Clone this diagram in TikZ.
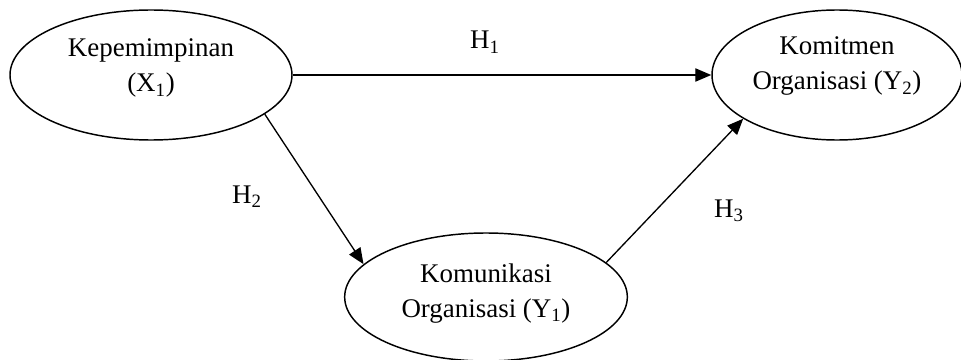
\documentclass[tikz,border=0pt]{standalone}
\usepackage{fontspec}
\setmainfont{Liberation Serif}
\usetikzlibrary{shapes.geometric,arrows.meta}

\begin{document}
\begin{tikzpicture}[x=0.75pt,y=-0.75pt,
	latent/.style={ellipse, draw, line width=1.1pt, inner sep=0pt, align=center,
		font=\fontsize{20.2}{26.25}\selectfont, text height=40pt, text depth=14.5pt},
	hyparrow/.style={line width=1pt, -{Triangle[length=12pt,width=10pt]}},
	hyplabel/.style={font=\fontsize{20.2}{24}\selectfont, anchor=base}]
	%%%%% START %%%%%
	
	\clip (0,0) rectangle (961,360);
	
	\node[latent, minimum width=211.5pt, minimum height=97.5pt] (kep) at (151,75) {Kepemimpinan\\(X\textsubscript{1})};
	\node[latent, minimum width=187.5pt, minimum height=97.5pt, text depth=17.5pt] (kmt) at (837,75) {Komitmen\\Organisasi (Y\textsubscript{2})};
	\node[latent, minimum width=212pt, minimum height=96pt, text depth=10pt] (kom) at (486,297) {Komunikasi\\Organisasi (Y\textsubscript{1})};
	
	\draw[hyparrow] (kep.east) -- (kmt.west);
	\draw[hyparrow] (kep.-19.7) -- (kom.165.8);
	\draw[hyparrow] (kom.16.8) -- (kmt.205);
	
	\node[hyplabel] (h1) at (485,49) {H\textsubscript{1}};
	\node[hyplabel] (h2) at (247,203) {H\textsubscript{2}};
	\node[hyplabel] (h3) at (729,217) {H\textsubscript{3}};
	
	%%%%% END %%%%%
\end{tikzpicture}
\end{document}
